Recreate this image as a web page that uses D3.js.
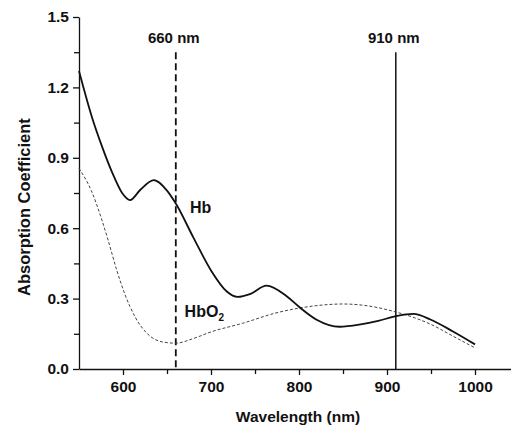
<!DOCTYPE html>
<html>
<head>
<meta charset="utf-8">
<script src="https://cdn.jsdelivr.net/npm/d3@7"></script>
<style>
  body { margin: 0; background: #fff; }
  svg { display: block; font-family: "Liberation Sans", Arial, sans-serif; }
  .axis text { font-size: 15.5px; font-weight: bold; fill: #111; }
  .axis path, .axis line { stroke: #111; stroke-width: 1.3; }
</style>
</head>
<body>
<svg id="chart"></svg>
<script>
// wavelength (nm) / absorption coefficient
const hbWave = [550, 565, 576, 588, 599, 608, 620, 635, 650, 660, 680, 700, 718, 730, 745, 763, 786, 800, 820, 846, 870, 890, 910, 930, 950, 975, 1000];
const hbValue = [1.27, 1.07, 0.95, 0.835, 0.75, 0.72, 0.765, 0.805, 0.76, 0.705, 0.56, 0.42, 0.33, 0.307, 0.32, 0.355, 0.31, 0.265, 0.21, 0.18, 0.19, 0.205, 0.225, 0.235, 0.21, 0.16, 0.105];

const hbo2Wave = [550, 564, 576, 583, 593, 602, 614, 627, 644, 660, 680, 700, 736, 775, 801, 825, 850, 880, 910, 922, 950, 975, 1000];
const hbo2Value = [0.855, 0.76, 0.635, 0.55, 0.42, 0.32, 0.22, 0.153, 0.116, 0.11, 0.13, 0.158, 0.195, 0.24, 0.26, 0.272, 0.277, 0.268, 0.243, 0.23, 0.19, 0.14, 0.09];

const markers = [660, 910];
const markerLabels = ['660 nm', '910 nm'];
const xTicks = [600, 700, 800, 900, 1000];
const yTicks = [0, 0.3, 0.6, 0.9, 1.2, 1.5];

const width = 511, height = 425;
const margin = { top: 17, right: -8, bottom: 56, left: 79 };

const svg = d3.select('#chart')
  .attr('width', width)
  .attr('height', height);

const x = d3.scaleLinear()
  .domain([550, 1050])
  .range([margin.left, width - margin.right]);

const y = d3.scaleLinear()
  .domain([0, 1.5])
  .range([height - margin.bottom, margin.top]);

// minor ticks first, no labels
svg.append('g')
  .attr('class', 'axis')
  .attr('transform', `translate(0,${y(0)})`)
  .call(d3.axisBottom(x).tickValues([650, 750, 850, 950]).tickSize(5).tickFormat(''))
  .select('.domain').remove();

svg.append('g')
  .attr('class', 'axis')
  .attr('transform', `translate(${x(550)},0)`)
  .call(d3.axisLeft(y).tickValues([0.15, 0.45, 0.75, 1.05, 1.35]).tickSize(5).tickFormat(''))
  .select('.domain').remove();

svg.append('g')
  .attr('class', 'axis')
  .attr('transform', `translate(0,${y(0)})`)
  .call(d3.axisBottom(x).tickValues(xTicks).tickFormat(d3.format('d')).tickSize(6).tickSizeOuter(0).tickPadding(6));

svg.append('g')
  .attr('class', 'axis')
  .attr('transform', `translate(${x(550)},0)`)
  .call(d3.axisLeft(y).tickValues(yTicks).tickFormat(d3.format('.1f')).tickSize(6).tickSizeOuter(0).tickPadding(4));

// marker lines
svg.selectAll('.marker')
  .data(markers)
  .enter()
  .append('line')
  .attr('class', 'marker')
  .attr('x1', (d) => x(d))
  .attr('x2', (d) => x(d))
  .attr('y1', y(1.35))
  .attr('y2', y(0))
  .attr('stroke', '#111')
  .attr('stroke-width', (d, i) => i === 0 ? 1.8 : 1.5)
  .attr('stroke-dasharray', (d, i) => i === 0 ? '7,4' : null);

svg.selectAll('.marker-label')
  .data(markers)
  .enter()
  .append('text')
  .attr('class', 'marker-label')
  .attr('x', (d) => x(d) - 2)
  .attr('y', y(1.39))
  .attr('text-anchor', 'middle')
  .style('font-size', '15px')
  .style('font-weight', 'bold')
  .attr('fill', '#111')
  .text((d, i) => markerLabels[i]);

const line = d3.line()
  .x((d) => x(d[0]))
  .y((d) => y(d[1]))
  .curve(d3.curveMonotoneX);

svg.append('path')
  .datum(d3.zip(hbo2Wave, hbo2Value))
  .attr('fill', 'none')
  .attr('stroke', '#444')
  .attr('stroke-width', 1)
  .attr('stroke-dasharray', '3,2')
  .attr('d', line);

svg.append('path')
  .datum(d3.zip(hbWave, hbValue))
  .attr('fill', 'none')
  .attr('stroke', '#111')
  .attr('stroke-width', 1.8)
  .attr('d', line);

// curve labels
svg.append('text')
  .attr('x', x(676))
  .attr('y', y(0.665))
  .style('font-size', '16px')
  .style('font-weight', 'bold')
  .attr('fill', '#111')
  .text('Hb');

const hbo2 = svg.append('text')
  .attr('x', x(670))
  .attr('y', y(0.22))
  .style('font-size', '16px')
  .style('font-weight', 'bold')
  .attr('fill', '#111');
hbo2.append('tspan').text('HbO');
hbo2.append('tspan').attr('dy', 4).style('font-size', '10px').text('2');

// axis titles
svg.append('text')
  .attr('x', 298)
  .attr('y', 422)
  .attr('text-anchor', 'middle')
  .style('font-size', '15.5px')
  .style('font-weight', 'bold')
  .attr('fill', '#111')
  .text('Wavelength (nm)');

svg.append('text')
  .attr('transform', `translate(30,${y(0.69)}) rotate(-90)`)
  .attr('text-anchor', 'middle')
  .style('font-size', '16.5px')
  .style('font-weight', 'bold')
  .attr('fill', '#111')
  .text('Absorption Coefficient');
</script>
</body>
</html>
